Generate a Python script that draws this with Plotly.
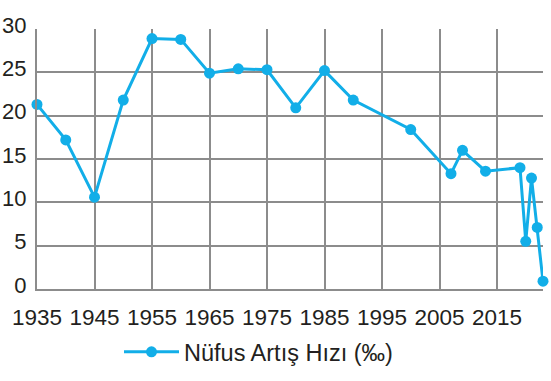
import plotly.graph_objects as go

years = [1935, 1940, 1945, 1950, 1955, 1960, 1965, 1970, 1975, 1980, 1985, 1990,
         2000, 2007, 2009, 2013, 2019, 2020, 2021, 2022, 2023]
rates = [21.3, 17.2, 10.6, 21.8, 28.9, 28.8, 24.9, 25.4, 25.3, 20.9, 25.2, 21.8,
         18.4, 13.3, 16.0, 13.6, 14.0, 5.5, 12.8, 7.1, 0.9]
x_ticks = [1935, 1945, 1955, 1965, 1975, 1985, 1995, 2005, 2015]
y_ticks = [0, 5, 10, 15, 20, 25, 30]
series_name = "Nüfus Artış Hızı (‰)"

CYAN = "#12aee8"
GRID = "#8c8c8c"
FONT = "Liberation Sans, Arial, sans-serif"

fig = go.Figure()
fig.add_trace(go.Scatter(
    x=years, y=rates, mode="lines+markers", name=series_name,
    line=dict(color=CYAN, width=3),
    marker=dict(color=CYAN, size=11),
    cliponaxis=False,
))

fig.update_layout(
    width=551, height=381,
    margin=dict(l=37, r=8, t=29, b=92, autoexpand=False),
    plot_bgcolor="white", paper_bgcolor="white",
    font=dict(family=FONT, size=22, color="#231f20"),
    showlegend=True,
    legend=dict(orientation="h", xref="container", yref="container",
                x=119 / 551, xanchor="left", y=1 - 352 / 381, yanchor="middle",
                itemwidth=55, font=dict(size=23.5), bgcolor="rgba(0,0,0,0)"),
    xaxis=dict(range=[1935, 2023], tickvals=x_ticks, showgrid=True,
               gridcolor=GRID, gridwidth=2, zeroline=False,
               showline=True, linecolor=GRID, linewidth=2, automargin=False,
               ticks="", ticklen=0, ticklabelstandoff=7, tickfont=dict(size=22.5)),
    yaxis=dict(range=[0, 30], tickvals=y_ticks, showgrid=True,
               gridcolor=GRID, gridwidth=2, zeroline=False,
               showline=True, linecolor=GRID, linewidth=2, automargin=False,
               ticks="", ticklen=0, ticklabelstandoff=4, ticklabelshift=-4,
               tickfont=dict(size=22)),
)

fig.write_html("out.html")
